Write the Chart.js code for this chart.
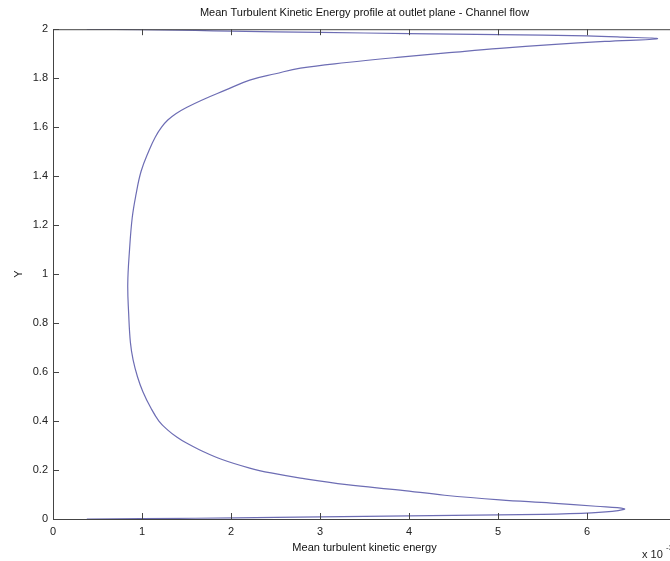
<!DOCTYPE html>
<html>
<head>
<meta charset="utf-8">
<script src="https://cdn.jsdelivr.net/npm/chart.js@4"></script>
<style>
  html, body { margin: 0; padding: 0; background: #fff; overflow: hidden; }
  #wrap { position: relative; width: 700px; height: 561px; }
</style>
</head>
<body>
<div id="wrap"><canvas id="tkeChart"></canvas></div>
<script>
// mean turbulent kinetic energy (x 10^-3) against Y
const tkeValues = [
  0.38, 1.60, 2.50, 3.50, 4.50, 5.50, 6.05, 6.35, 6.42, 6.10,
  5.60, 5.02, 4.40, 3.90, 3.30, 2.78, 2.45, 2.21, 1.90, 1.65,
  1.50, 1.39, 1.29, 1.19, 1.10, 1.01, 0.95, 0.90, 0.87, 0.85,
  0.84, 0.86, 0.89, 0.93, 0.99, 1.08, 1.15, 1.22, 1.29, 1.38,
  1.50, 1.67, 1.93, 2.21, 2.50, 2.78, 3.30, 3.90, 4.45, 5.02,
  5.60, 6.20, 6.79, 6.40, 6.00, 5.00, 4.00, 3.00, 2.00, 1.60,
  0.38
];
const yValues = [
  0.000, 0.003, 0.007, 0.011, 0.015, 0.019, 0.025, 0.034, 0.042, 0.052,
  0.065, 0.078, 0.097, 0.118, 0.140, 0.167, 0.188, 0.208, 0.243, 0.282,
  0.310, 0.335, 0.363, 0.400, 0.453, 0.520, 0.580, 0.650, 0.720, 0.840,
  0.960, 1.100, 1.230, 1.320, 1.420, 1.506, 1.560, 1.600, 1.629, 1.655,
  1.680, 1.710, 1.750, 1.792, 1.818, 1.841, 1.864, 1.886, 1.904, 1.922,
  1.937, 1.950, 1.961, 1.968, 1.973, 1.978, 1.982, 1.987, 1.992, 1.995,
  2.000
];
const xTicks = [0, 1, 2, 3, 4, 5, 6, 7];
const yTicks = [0, 0.2, 0.4, 0.6, 0.8, 1, 1.2, 1.4, 1.6, 1.8, 2];

const fontFamily = '"Liberation Sans", Arial, Helvetica, sans-serif';

// frame + inward ticks on all four sides, and the x 10^-3 multiplier
const frameTicks = {
  id: 'frameTicks',
  afterDatasetsDraw(chart) {
    const { ctx, chartArea: a, scales: { x, y } } = chart;
    ctx.save();
    ctx.strokeStyle = '#444';
    ctx.lineWidth = 1;
    ctx.strokeRect(a.left + 0.5, a.top + 0.5, a.right - a.left, a.bottom - a.top);
    ctx.beginPath();
    xTicks.forEach(v => {
      const px = Math.round(x.getPixelForValue(v)) + 0.5;
      ctx.moveTo(px, a.bottom); ctx.lineTo(px, a.bottom - 6);
      ctx.moveTo(px, a.top); ctx.lineTo(px, a.top + 6);
    });
    yTicks.forEach(v => {
      const py = Math.round(y.getPixelForValue(v)) + 0.5;
      ctx.moveTo(a.left, py); ctx.lineTo(a.left + 6, py);
      ctx.moveTo(a.right, py); ctx.lineTo(a.right - 6, py);
    });
    ctx.stroke();

    ctx.fillStyle = '#222';
    ctx.textBaseline = 'alphabetic';
    ctx.font = '11px ' + fontFamily;
    ctx.fillText('x 10', a.right - 34, a.bottom + 39);
    ctx.font = '8px ' + fontFamily;
    ctx.fillText('-3', a.right - 10, a.bottom + 31);
    ctx.restore();
  }
};

const ctx = document.getElementById('tkeChart').getContext('2d');
new Chart(ctx, {
  type: 'scatter',
  data: {
    datasets: [{
      label: 'TKE',
      data: tkeValues.map((k, i) => ({ x: k, y: yValues[i] })),
      showLine: true,
      borderColor: '#6d6db4',
      borderWidth: 1.2,
      pointRadius: 0,
      tension: 0.4,
      fill: false
    }]
  },
  options: {
    responsive: true,
    maintainAspectRatio: false,
    animation: false,
    layout: { padding: { top: 0, right: 24, bottom: 0, left: 0 } },
    plugins: {
      legend: { display: false },
      tooltip: { enabled: false },
      title: {
        display: true,
        fullSize: false,
        text: 'Mean Turbulent Kinetic Energy profile at outlet plane - Channel flow',
        color: '#111',
        font: { family: fontFamily, size: 11, weight: 'normal' },
        padding: { top: 6, bottom: 10 }
      }
    },
    scales: {
      x: {
        type: 'linear',
        min: 0,
        max: 7,
        afterFit: s => { s.height = 42; },
        grid: { display: false, drawTicks: false },
        border: { display: false },
        ticks: {
          stepSize: 1,
          color: '#222',
          padding: 6,
          font: { family: fontFamily, size: 11 }
        },
        title: {
          display: true,
          text: 'Mean turbulent kinetic energy',
          color: '#111',
          font: { family: fontFamily, size: 11 },
          padding: { top: 0, bottom: 6 }
        }
      },
      y: {
        type: 'linear',
        min: 0,
        max: 2,
        afterFit: s => { s.width = 53; },
        grid: { display: false, drawTicks: false },
        border: { display: false },
        ticks: {
          stepSize: 0.2,
          color: '#222',
          padding: 5,
          font: { family: fontFamily, size: 11 },
          callback: v => String(Number(v.toFixed(1)))
        },
        title: {
          display: true,
          text: 'Y',
          color: '#111',
          font: { family: fontFamily, size: 11 },
          padding: { top: 12, bottom: 0 }
        }
      }
    }
  },
  plugins: [frameTicks]
});
</script>
</body>
</html>
